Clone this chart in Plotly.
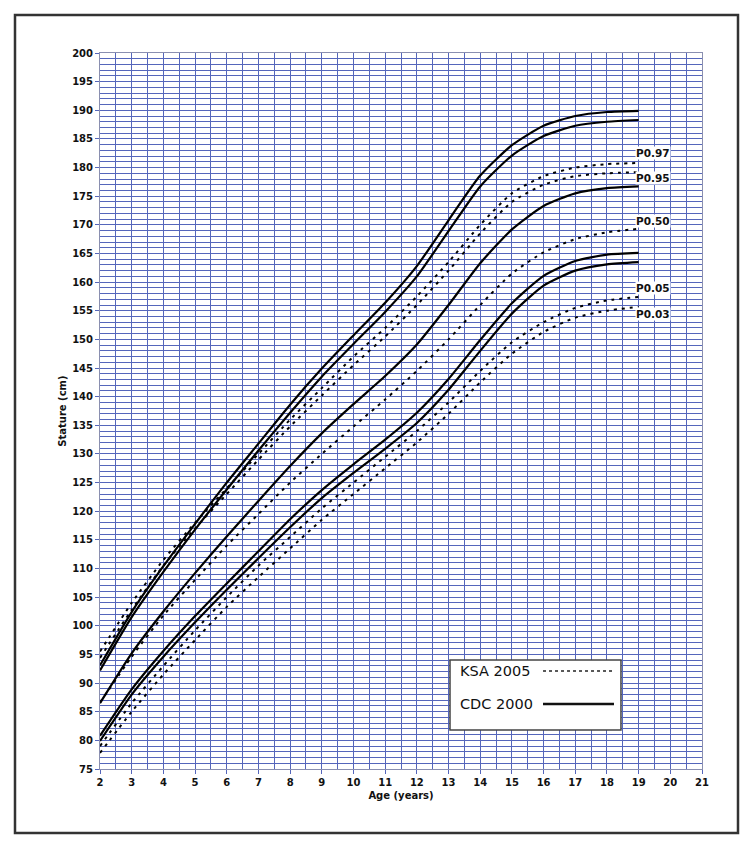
import plotly.graph_objects as go

ages = [2, 3, 4, 5, 6, 7, 8, 9, 10, 11, 12, 13, 14, 15, 16, 17, 18, 19]

# CDC 2000 (solid)
cdc_p97 = [93.1, 102.4, 110.4, 117.8, 125.0, 131.8, 138.6, 144.9, 150.7, 156.4, 162.8, 170.8, 178.6, 183.9, 187.3, 189.0, 189.7, 189.9]
cdc_p95 = [92.2, 101.5, 109.4, 116.8, 123.8, 130.6, 137.2, 143.5, 149.2, 154.8, 161.0, 168.9, 176.7, 182.1, 185.5, 187.3, 188.0, 188.3]
cdc_p50 = [86.5, 95.2, 102.5, 109.2, 115.6, 121.8, 127.9, 133.6, 138.7, 143.6, 149.1, 156.0, 163.3, 169.2, 173.3, 175.5, 176.4, 176.7]
cdc_p05 = [80.8, 88.9, 95.6, 101.7, 107.4, 113.0, 118.6, 123.7, 128.2, 132.5, 137.2, 143.1, 149.9, 156.3, 161.1, 163.7, 164.8, 165.1]
cdc_p03 = [79.9, 88.0, 94.6, 100.6, 106.3, 111.8, 117.2, 122.3, 126.7, 130.9, 135.4, 141.2, 148.0, 154.5, 159.4, 162.0, 163.1, 163.5]

# KSA 2005 (dotted)
ksa_p97 = [95.5, 104.0, 111.5, 118.0, 124.0, 130.0, 136.0, 141.5, 147.0, 152.0, 157.5, 163.5, 170.0, 175.5, 178.5, 180.0, 180.6, 180.8]
ksa_p95 = [94.4, 102.8, 110.5, 117.0, 123.0, 129.0, 134.8, 140.2, 145.5, 150.5, 156.0, 162.0, 168.5, 174.0, 177.0, 178.5, 179.0, 179.2]
ksa_p50 = [86.6, 94.6, 101.8, 108.0, 114.0, 119.5, 125.0, 130.0, 134.8, 139.5, 144.5, 150.0, 156.0, 161.5, 165.2, 167.5, 168.7, 169.3]
ksa_p05 = [79.0, 86.5, 93.0, 99.2, 105.0, 110.5, 115.5, 120.5, 125.0, 129.5, 134.0, 139.0, 144.5, 149.5, 153.0, 155.5, 156.8, 157.4]
ksa_p03 = [77.8, 85.0, 91.5, 97.5, 103.3, 108.5, 113.5, 118.5, 123.0, 127.5, 132.0, 137.0, 142.5, 147.5, 151.3, 153.8, 155.0, 155.7]

pct_labels = ["P0.97", "P0.95", "P0.50", "P0.05", "P0.03"]
pct_label_y = [182.5, 178.2, 170.7, 159.0, 154.4]
pct_label_x = 19.45

legend_labels = ["KSA 2005", "CDC 2000"]

GRID = "#5566BB"
FONT = "DejaVu Sans"
fig = go.Figure()

for name, ys in [("CDC P97", cdc_p97), ("CDC P95", cdc_p95), ("CDC P50", cdc_p50),
                 ("CDC P05", cdc_p05), ("CDC P03", cdc_p03)]:
    fig.add_trace(go.Scatter(x=ages, y=ys, mode="lines", name=name, showlegend=False,
                             line=dict(color="black", width=2.2, shape="spline", smoothing=0.6)))
for name, ys in [("KSA P97", ksa_p97), ("KSA P95", ksa_p95), ("KSA P50", ksa_p50),
                 ("KSA P05", ksa_p05), ("KSA P03", ksa_p03)]:
    fig.add_trace(go.Scatter(x=ages, y=ys, mode="lines", name=name, showlegend=False,
                             line=dict(color="black", width=2, dash="3px,5px", shape="spline", smoothing=0.6)))

for txt, yv in zip(pct_labels, pct_label_y):
    fig.add_annotation(x=pct_label_x, y=yv, text="<b>%s</b>" % txt, showarrow=False,
                       bgcolor="white", font=dict(family=FONT, size=10.5, color="#111"),
                       xanchor="center", yanchor="middle", borderpad=0)

# outer frame
fig.add_shape(type="rect", xref="paper", yref="paper", x0=-0.1412, x1=1.0598, y0=-0.0894, y1=1.0531,
              line=dict(color="#333", width=2.5), layer="below")

# legend box
fig.add_shape(type="rect", xref="paper", yref="paper", x0=0.5814, x1=0.8654, y0=0.0545, y1=0.1522,
              line=dict(color="#444", width=1.5), fillcolor="white")
fig.add_annotation(xref="paper", yref="paper", x=0.5940, y=0.1369, text=legend_labels[0], showarrow=False,
                   xanchor="left", yanchor="middle", font=dict(family=FONT, size=14.5, color="#111"))
fig.add_annotation(xref="paper", yref="paper", x=0.5940, y=0.0908, text=legend_labels[1], showarrow=False,
                   xanchor="left", yanchor="middle", font=dict(family=FONT, size=14.5, color="#111"))
fig.add_shape(type="line", xref="paper", yref="paper", x0=0.7359, x1=0.8538, y0=0.1369, y1=0.1369,
              line=dict(color="#222", width=1.5, dash="dot"))
fig.add_shape(type="line", xref="paper", yref="paper", x0=0.7359, x1=0.8538, y0=0.0908, y1=0.0908,
              line=dict(color="#111", width=2.5))

# y-axis title
fig.add_annotation(xref="paper", yref="paper", x=-0.076, y=0.5, text="<b>Stature (cm)</b>", showarrow=False,
                   textangle=-90, font=dict(family=FONT, size=10, color="#111"))

tickfont = dict(family=FONT, size=10, color="#111", weight="bold")
fig.update_xaxes(range=[2, 21], dtick=1, tick0=2, showgrid=True, gridcolor=GRID, gridwidth=1,
                 minor=dict(dtick=0.5, showgrid=True, gridcolor=GRID, gridwidth=1),
                 showline=True, linecolor="#8a8fb0", linewidth=1, mirror=True,
                 ticks="outside", ticklen=4, tickcolor=GRID, zeroline=False,
                 tickfont=tickfont,
                 title=dict(text="<b>Age (years)</b>", font=dict(family=FONT, size=10, color="#111"), standoff=4))
fig.update_yaxes(range=[75, 200], dtick=5, tick0=75, showgrid=True, gridcolor=GRID, gridwidth=1,
                 minor=dict(dtick=1, showgrid=True, gridcolor=GRID, gridwidth=1),
                 showline=True, linecolor="#8a8fb0", linewidth=1, mirror=True,
                 ticks="outside", ticklen=4, tickcolor=GRID, zeroline=False,
                 tickfont=tickfont)

fig.update_layout(width=754, height=849, margin=dict(l=92, r=60, t=45, b=88),
                  paper_bgcolor="white", plot_bgcolor="white", showlegend=False)

fig.write_html("out.html")
